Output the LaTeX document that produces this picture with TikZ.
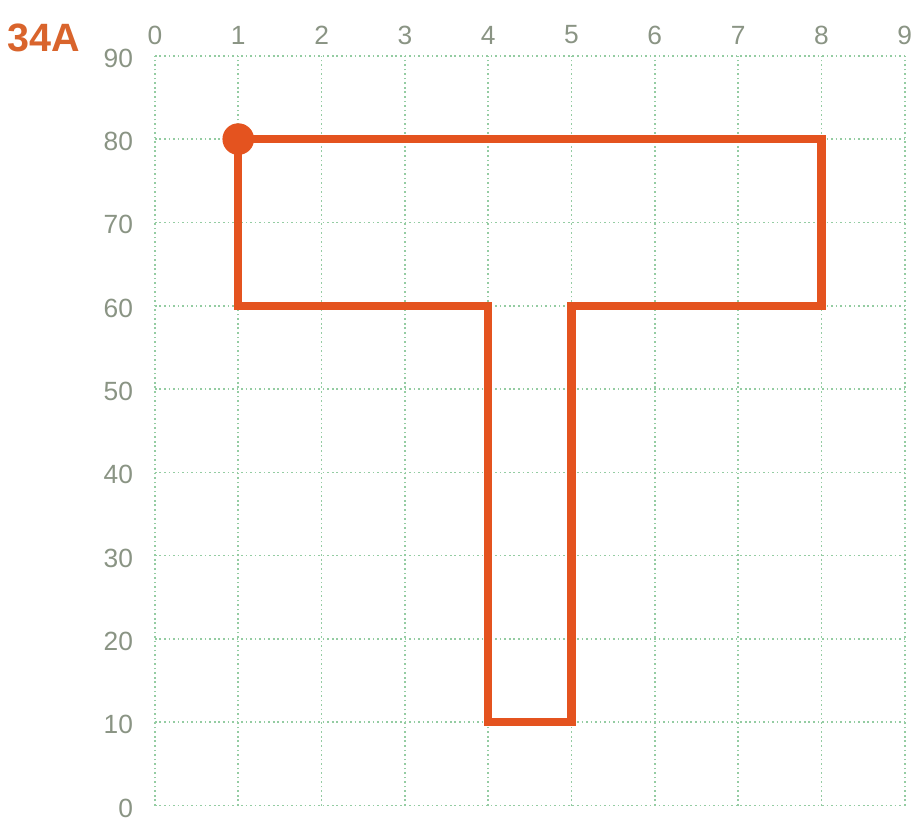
\documentclass[tikz,border=0pt]{standalone}
\usepackage{fontspec}
\setmainfont{Liberation Sans}
\usepackage{tikz}
\usetikzlibrary{positioning}
\definecolor{gridgreen}{HTML}{94CCA2}
\definecolor{labelgrey}{HTML}{8A9484}
\definecolor{orangered}{HTML}{E4531F}
\definecolor{titleorange}{HTML}{D9642C}

\begin{document}
\begin{tikzpicture}[
    gridline/.style={gridgreen, line width=0.55pt, densely dotted},
    ticklabel/.style={labelgrey, font=\fontsize{9}{11}\selectfont},
    tshape/.style={orangered, line width=2.8pt, line join=miter},
  ]
      \useasboundingbox (-1.86,-0.30) rectangle (9.135,9.67);

      % Grid
      \foreach \i in {0,...,9} {
        \draw[gridline] (\i,0) -- (\i,9);
        \draw[gridline] (0,\i) -- (9,\i);
      }

      % Labels
      \foreach \i in {0,...,9} {
        \node[ticklabel] (xl\i) at (\i,9.25) {\i};
      }
      \foreach \i in {0,...,9} {
        \node[ticklabel, anchor=east] (yl\i) at (-0.14,\i-0.03) {\the\numexpr\i*10\relax};
      }
      \node[titleorange, font=\fontsize{13.5}{16}\selectfont\bfseries] (title) at (-1.34,9.22) {34A};

      % T shape
      \draw[tshape] (1,8) -- (8,8) -- (8,6) -- (5,6) -- (5,1) -- (4,1)
        -- (4,6) -- (1,6) -- cycle;
      \node[circle, fill=orangered, inner sep=0pt, minimum size=0.38cm] (start) at (1,8) {};
    \end{tikzpicture}
\end{document}
